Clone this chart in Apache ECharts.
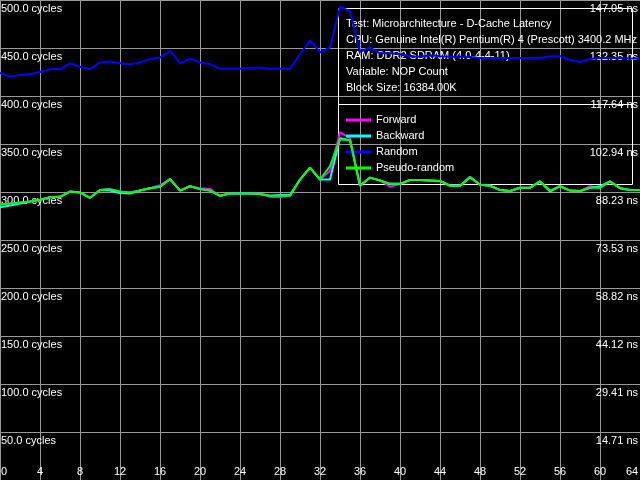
<!DOCTYPE html>
<html>
<head>
<meta charset="utf-8">
<script src="https://cdn.jsdelivr.net/npm/echarts@6/dist/echarts.min.js"></script>
<style>html,body{margin:0;padding:0;background:#000}#c{width:640px;height:480px}</style>
</head>
<body>
<div id="c"></div>
<script>
const xValues = [0,1,2,3,4,5,6,7,8,9,10,11,12,13,14,15,16,17,18,19,20,21,22,23,24,25,26,27,28,29,30,31,32,33,34,35,36,37,38,39,40,41,42,43,44,45,46,47,48,49,50,51,52,53,54,55,56,57,58,59,60,61,62,63,64];

const seriesNames = ['Forward', 'Backward', 'Random', 'Pseudo-random'];

const forward = [287,288,289,290,292,294.5,295,300.5,299.5,294,302,303,300.5,299.5,301.5,304,307,313.5,301.5,306,304,303,296,298.5,298.5,298.5,298,295,294.5,296,313,325.5,313,322,362,356,306.5,315,312,305.5,308.5,312.5,312.5,312,311.5,306.5,306.5,315.5,307.5,306.5,302,301,304.5,304.5,311,301.5,306,301.5,301,306,304.5,311,304,302,302];

const backward = [284,286,288,290,292,294.5,295,300.5,299.5,294,302,301.5,299,298.5,301.5,304,305.5,313.5,301.5,306,303,301.5,296,298.5,298.5,298.5,298,296,297,297,313,325.5,313,313,356,354,306.5,315,312,308.5,308.5,312.5,312.5,312,311.5,306.5,306.5,315.5,307.5,306.5,302,301,304.5,304.5,311,300.5,306,301.5,301,304.5,306,311,304,302,302];

const random = [424,420,422,423,425,428,428,434,430.5,428,435,436,434,433,435,438.5,440,447,434,439,435,433,428.5,428.5,428.5,429.5,429.5,428.5,428.5,428.5,443.5,458,445.5,450.5,493,488,446,450.5,444.5,444.5,443.5,441.5,441,442.5,441.5,441,441,440.5,439.5,439.5,439.5,439.5,439.5,439.5,439.5,441.5,441.5,437.5,435.5,438.5,439.5,439.5,439.5,439,439];

const pseudoRandom = [287,288,289,290,292,294.5,295,300.5,299.5,294,302,303,300.5,299.5,301.5,304,305.5,313.5,301.5,306,303,301.5,296,298.5,298.5,298.5,298,296,296,296,313,325.5,313,327,355,354,306.5,315,312,308.5,308.5,312.5,312.5,312,311.5,306.5,306.5,315.5,307.5,306.5,302,301,304.5,304.5,311,301.5,306,301.5,301,304.5,304.5,311,304,302,302];

const xTickLabels = ['0','4','8','12','16','20','24','28','32','36','40','44','48','52','56','60','64'];
const cycleTickValues = [50,100,150,200,250,300,350,400,450,500];
const cycleTickLabels = ['50.0 cycles','100.0 cycles','150.0 cycles','200.0 cycles','250.0 cycles','300.0 cycles','350.0 cycles','400.0 cycles','450.0 cycles','500.0 cycles'];
const nsTickLabels = ['14.71 ns','29.41 ns','44.12 ns','58.82 ns','73.53 ns','88.23 ns','102.94 ns','117.64 ns','132.35 ns','147.05 ns'];

const infoLines = [
  'Test: Microarchitecture - D-Cache Latency',
  'CPU: Genuine Intel(R) Pentium(R) 4 (Prescott) 3400.2 MHz',
  'RAM: DDR2 SDRAM (4.0-4-4-11)',
  'Variable: NOP Count',
  'Block Size: 16384.00K'
];

const colors = ['#ff00ff', '#00ffff', '#0000ff', '#00ff00'];
const FONT = 'Liberation Sans, Arial, sans-serif';

function pairs(arr) { return xValues.map((x, i) => [x, arr[i]]); }
const allData = [forward, backward, random, pseudoRandom];

const chart = echarts.init(document.getElementById('c'), null, {renderer: 'canvas'});

const infoGraphics = infoLines.map((t, i) => ({
  type: 'text', left: 346, top: 18 + i * 16, z: 1,
  style: { text: t, fill: '#fff', font: '11px ' + FONT }
}));

chart.setOption({
  backgroundColor: '#000',
  animation: false,
  grid: { left: 0, right: 0, top: 0, bottom: 0, containLabel: false, outerBoundsMode: 'none' },
  xAxis: {
    type: 'value', min: 0, max: 64, interval: 4,
    axisLine: { show: false }, axisTick: { show: false },
    splitLine: { show: true, lineStyle: { color: '#999999', width: 1 } },
    axisLabel: {
      inside: true, margin: 3, color: '#fff', fontSize: 11, fontFamily: FONT,
      formatter: v => {
        const i = Math.round(v / 4);
        if (i === 0) return '{first|' + xTickLabels[i] + '}';
        if (i === xTickLabels.length - 1) return '{last|' + xTickLabels[i] + '}';
        return xTickLabels[i];
      },
      rich: {
        first: { color: '#fff', fontSize: 11, fontFamily: FONT, padding: [0, 0, 0, 8] },
        last: { color: '#fff', fontSize: 11, fontFamily: FONT, padding: [0, 16, 0, 0] }
      }
    }
  },
  yAxis: [{
    type: 'value', min: 0, max: 500, interval: 50, position: 'left',
    axisLine: { show: false }, axisTick: { show: false },
    splitLine: { show: true, lineStyle: { color: '#999999', width: 1 } },
    axisLabel: {
      inside: true, margin: 1, color: '#fff', fontSize: 11, fontFamily: FONT,
      verticalAlign: 'top', padding: [3, 0, 0, 0], showMinLabel: false,
      formatter: v => { const i = cycleTickValues.indexOf(v); return i >= 0 ? cycleTickLabels[i] : ''; }
    }
  }, {
    type: 'value', min: 0, max: 500, interval: 50, position: 'right',
    axisLine: { show: false }, axisTick: { show: false }, splitLine: { show: false },
    axisLabel: {
      inside: true, margin: 2, color: '#fff', fontSize: 11, fontFamily: FONT,
      verticalAlign: 'top', padding: [3, 0, 0, 0], showMinLabel: false,
      formatter: v => { const i = cycleTickValues.indexOf(v); return i >= 0 ? nsTickLabels[i] : ''; }
    }
  }],
  legend: {
    data: seriesNames, orient: 'vertical', left: 346, top: 112, padding: 0,
    icon: 'rect', itemWidth: 25, itemHeight: 3, itemGap: 0,
    textStyle: { color: '#fff', fontSize: 11, fontFamily: FONT, lineHeight: 16 },
    selectedMode: false
  },
  graphic: [
    { type: 'rect', shape: { x: 338.5, y: 8.5, width: 294, height: 176 }, z: 1,
      style: { fill: 'none', stroke: '#fff', lineWidth: 1 } },
    { type: 'line', shape: { x1: 338.5, y1: 104.5, x2: 632.5, y2: 104.5 }, z: 1,
      style: { stroke: '#fff', lineWidth: 1 } }
  ].concat(infoGraphics),
  series: seriesNames.map((n, i) => ({
    name: n, type: 'line', data: pairs(allData[i]), symbol: 'none',
    lineStyle: { color: colors[i], width: 2 }, itemStyle: { color: colors[i] },
    z: 3 + i
  }))
});
</script>
</body>
</html>
